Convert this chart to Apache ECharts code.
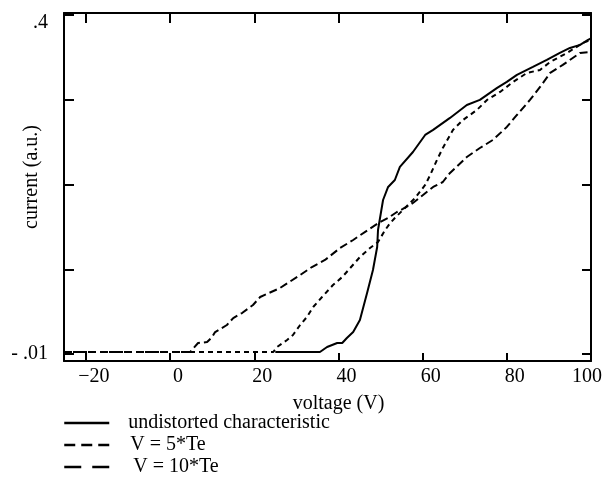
<!DOCTYPE html>
<html><head><meta charset="utf-8">
<script src="https://cdn.jsdelivr.net/npm/echarts@6/dist/echarts.min.js"></script>
<style>html,body{margin:0;padding:0;background:#fff}#c{width:602px;height:479px}</style>
</head><body><div id="c"></div>
<script>
// ---- data ----
const xTicks = [-20, 0, 20, 40, 60, 80, 100];
const xTickLabels = ['−20', '0', '20', '40', '60', '80', '100'];
const yTicks = [0.01, 0.1075, 0.205, 0.3025, 0.4];
const yLabelValues = [0.01, 0.4];
const yLabelTexts = ['- .01', '.4'];
const seriesNames = ['undistorted characteristic', 'V = 5*Te', 'V = 10*Te'];

const undistortedV = [25.0, 35.6, 37.3, 39.7, 40.9, 42.0, 43.5, 45.1, 46.8, 48.2, 49.2, 49.4, 50.6, 51.8, 53.4, 54.6, 57.7, 60.6, 62.5, 66.5, 70.5, 73.6, 77.7, 80.0, 82.4, 86.2, 89.5, 92.6, 95.0, 97.4, 99.3, 100];
const undistortedI = [0.0123, 0.0123, 0.0181, 0.0227, 0.0227, 0.0284, 0.0353, 0.0491, 0.0802, 0.1067, 0.1331, 0.1527, 0.1872, 0.2022, 0.2102, 0.2252, 0.2424, 0.2620, 0.2678, 0.2816, 0.2965, 0.3023, 0.3161, 0.3230, 0.3311, 0.3403, 0.3483, 0.3564, 0.3621, 0.3656, 0.3713, 0.3730];

const te5V = [-25.2, 24.5, 25.4, 27.8, 29.2, 30.9, 32.5, 34.0, 36.1, 38.7, 40.9, 42.8, 45.1, 47.5, 49.4, 51.1, 52.3, 53.4, 55.8, 58.2, 60.6, 61.8, 63.4, 64.8, 67.2, 69.6, 72.9, 75.3, 78.4, 81.5, 84.8, 87.9, 90.3, 94.3, 98.1, 100];
const te5I = [0.0123, 0.0123, 0.0181, 0.0261, 0.0319, 0.0434, 0.0526, 0.0641, 0.0756, 0.0894, 0.0986, 0.1090, 0.1216, 0.1320, 0.1389, 0.1527, 0.1607, 0.1665, 0.1780, 0.1895, 0.2045, 0.2160, 0.2332, 0.2470, 0.2678, 0.2793, 0.2908, 0.3023, 0.3115, 0.3230, 0.3334, 0.3368, 0.3460, 0.3564, 0.3679, 0.3713];

const te10V = [-25.2, 4.75, 6.65, 8.8, 10.0, 10.7, 13.5, 15.0, 17.1, 19.7, 21.4, 26.1, 30.9, 33.7, 36.8, 40.4, 43.5, 47.0, 49.9, 51.8, 53.9, 55.3, 57.7, 60.1, 62.5, 64.8, 66.5, 70.5, 73.6, 76.7, 80.0, 82.4, 85.5, 87.9, 90.3, 93.3, 97.4, 100];
const te10I = [0.0123, 0.0123, 0.0227, 0.0238, 0.0296, 0.0353, 0.0434, 0.0514, 0.0572, 0.0664, 0.0756, 0.0859, 0.1009, 0.1101, 0.1182, 0.1320, 0.1412, 0.1527, 0.1619, 0.1665, 0.1734, 0.1769, 0.1838, 0.1930, 0.2022, 0.2079, 0.2183, 0.2367, 0.2470, 0.2563, 0.2712, 0.2850, 0.3023, 0.3172, 0.3334, 0.3426, 0.3564, 0.3575];

// ---- chart ----
const FONT = 'Liberation Serif';
const zip = (a, b) => a.map((v, i) => [v, b[i]]);
const chart = echarts.init(document.getElementById('c'), null, {renderer: 'canvas'});

const lineAxis = {onZero: false, lineStyle: {color: '#000', width: 2}};
const tickLine = {color: '#000', width: 2};
const X_MIN = -25.2, X_MAX = 100, Y_MIN = 0.002, Y_MAX = 0.4023;
const txt = {fontFamily: FONT, fontSize: 20, color: '#000'};

chart.setOption({
  animation: false,
  backgroundColor: '#fff',
  grid: {left: 64, right: 11, top: 13, bottom: 118, containLabel: false, outerBoundsMode: 'none'},
  xAxis: [{
    type: 'value', position: 'bottom', min: X_MIN, max: X_MAX,
    splitLine: {show: false}, axisLine: lineAxis,
    axisTick: {inside: true, length: 8, customValues: xTicks, lineStyle: tickLine},
    axisLabel: {
      customValues: xTicks, margin: 6, ...txt,
      formatter: v => {
        const t = xTickLabels[xTicks.indexOf(v)];
        return v === 100 ? '{e|' + t + '}' : '{s|' + t + '}';
      },
      rich: {
        s: {...txt, padding: [0, 0, 0, 16]},
        e: {...txt, padding: [0, 8, 0, 0]}
      }
    },
    name: 'voltage (V)', nameLocation: 'middle', nameGap: 33, nameMoveOverlap: false,
    nameTextStyle: {...txt, padding: [0, 0, 0, 22]}
  }, {
    type: 'value', position: 'top', min: X_MIN, max: X_MAX,
    splitLine: {show: false}, axisLine: lineAxis,
    axisTick: {inside: true, length: 10, customValues: xTicks, lineStyle: tickLine},
    axisLabel: {show: false}
  }],
  yAxis: [{
    type: 'value', position: 'left', min: Y_MIN, max: Y_MAX,
    splitLine: {show: false}, axisLine: lineAxis,
    axisTick: {inside: true, length: 10, customValues: yTicks, lineStyle: tickLine},
    axisLabel: {
      customValues: yLabelValues, margin: 16, ...txt,
      formatter: v => {
        const t = yLabelTexts[yLabelValues.indexOf(v)];
        return v === 0.4 ? '{t|' + t + '}' : '{b|' + t + '}';
      },
      rich: {
        t: {...txt, padding: [16, 0, 0, 0]},
        b: {...txt}
      }
    },
    name: 'current (a.u.)', nameLocation: 'middle', nameGap: 22, nameMoveOverlap: false,
    nameTextStyle: {...txt, padding: [0, 0, 0, 20]}
  }, {
    type: 'value', position: 'right', min: Y_MIN, max: Y_MAX,
    splitLine: {show: false}, axisLine: lineAxis,
    axisTick: {inside: true, length: 9, customValues: yTicks, lineStyle: tickLine},
    axisLabel: {show: false}
  }],
  legend: {
    show: true,
    orient: 'vertical', left: 63, top: 413, padding: 0,
    itemWidth: 45, itemHeight: 14, itemGap: 2,
    selectedMode: false,
    itemStyle: {opacity: 0},
    formatter: name => {
      const k = ['a', 'b', 'c'][seriesNames.indexOf(name)];
      return '{' + k + '|' + name + '}';
    },
    textStyle: {
      ...txt,
      rich: {
        a: {...txt, padding: [0, 0, 0, 14]},
        b: {...txt, padding: [0, 0, 0, 16]},
        c: {...txt, padding: [0, 0, 0, 19]}
      }
    },
    data: [
      {name: seriesNames[0], lineStyle: {color: '#000', width: 2.5, type: 'solid'}},
      {name: seriesNames[1], lineStyle: {color: '#000', width: 2.5, type: [11, 6]}},
      {name: seriesNames[2], lineStyle: {color: '#000', width: 2.5, type: [17, 11]}}
    ]
  },
  series: [{
    name: seriesNames[0], type: 'line', symbol: 'none',
    data: zip(undistortedV, undistortedI),
    lineStyle: {color: '#000', width: 2, type: 'solid'}, itemStyle: {color: '#000'}
  }, {
    name: seriesNames[1], type: 'line', symbol: 'none',
    data: zip(te5V, te5I),
    lineStyle: {color: '#000', width: 2, type: [5, 4]}, itemStyle: {color: '#000'}
  }, {
    name: seriesNames[2], type: 'line', symbol: 'none',
    data: zip(te10V, te10I),
    lineStyle: {color: '#000', width: 2, type: [8, 4]}, itemStyle: {color: '#000'}
  }]
});
</script>
</body></html>
